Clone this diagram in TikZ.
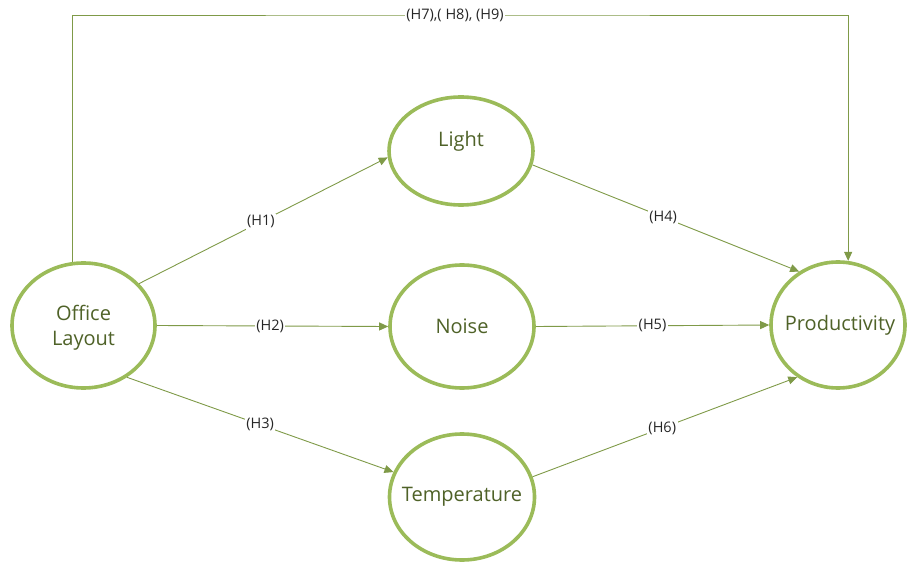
\documentclass[tikz,border=0pt]{standalone}
\usepackage{fontspec}
\setmainfont{Open Sans}
\usetikzlibrary{shapes.geometric,arrows.meta}
\definecolor{ringgreen}{HTML}{9BBB59}
\definecolor{linegreen}{HTML}{7F9A48}
\definecolor{textgreen}{HTML}{4F6228}
\tikzset{
  var/.style={ellipse,draw=ringgreen,line width=3.6pt,fill=white,inner sep=0pt},
  vartext/.style={inner sep=0pt,text=textgreen,font=\fontsize{20}{25}\selectfont,align=center},
  arr/.style={draw=linegreen,line width=0.9pt,-{Triangle[length=9pt,width=8pt]}},
  hlab/.style={fill=white,inner sep=1.5pt,font=\fontsize{14.5}{16}\selectfont,text=black!85}
}
\begin{document}
\begin{tikzpicture}[x=1pt,y=1pt]
\useasboundingbox (0,0) rectangle (907,563);
\node[var,minimum width=143pt,minimum height=125pt] (office) at (83.5,237.5) {};
\node[var,minimum width=144pt,minimum height=108pt] (light) at (461,412) {};
\node[var,minimum width=144pt,minimum height=123pt] (noise) at (462,236.5) {};
\node[var,minimum width=145pt,minimum height=126pt] (temp) at (462,66) {};
\node[var,minimum width=134pt,minimum height=126pt] (prod) at (838,238) {};
\node[vartext] (officet) at ([yshift=-2pt]office.center) {Office\\Layout};
\node[vartext] (lightt) at ([yshift=10pt]light.center) {Light};
\node[vartext] (noiset) at (noise.center) {Noise};
\node[vartext] (tempt) at (temp.center) {Temperature};
\node[vartext] (prodt) at ([xshift=2pt]prod.center) {Productivity};
\coordinate (top) at (455,548);
\draw[arr] (office.100) |- (top) -| (prod.81);
\node[hlab] (h789) at (top) {(H7),( H8), (H9)};
\draw[arr] (office.37.7) -- node[hlab,pos=0.49] (h1) {(H1)} (light.185);
\draw[arr] (office.east) -- node[hlab,pos=0.49] (h2) {(H2)} (noise.west);
\draw[arr] (office.-50.7) -- node[hlab,pos=0.5] (h3) {(H3)} (temp.160);
\draw[arr] (light.-11.5) -- node[hlab,pos=0.49] (h4) {(H4)} (prod.126);
\draw[arr] (noise.east) -- node[hlab,pos=0.5] (h5) {(H5)} (prod.west);
\draw[arr] (temp.16.6) -- node[hlab,pos=0.49] (h6) {(H6)} (prod.232);
\end{tikzpicture}
\end{document}
